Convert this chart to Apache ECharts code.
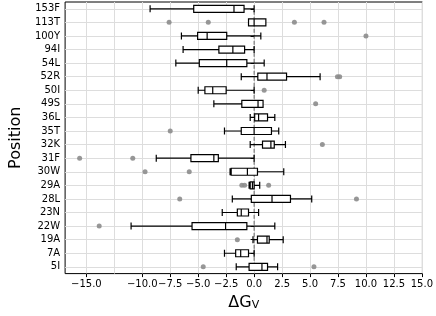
<!DOCTYPE html>
<html>
<head>
<meta charset="utf-8">
<script src="https://cdn.jsdelivr.net/npm/echarts@6/dist/echarts.min.js"></script>
<style>
  html, body { margin: 0; padding: 0; background: #fff; }
  #chart { width: 436px; height: 316px; }
</style>
</head>
<body>
<div id="chart"></div>
<script>
// positions, bottom to top
const positions = ['5I', '7A', '19A', '22W', '23N', '28L', '29A', '30W', '31F', '32K',
  '35T', '36L', '49S', '50I', '52R', '54L', '94I', '100Y', '113T', '153F']

// [low whisker, Q1, median, Q3, high whisker]
const boxes = [
  [-1.6, -0.45, 0.7, 1.2, 2.1],
  [-2.65, -1.65, -1.2, -0.5, 0.0],
  [-0.1, 0.3, 1.15, 1.35, 2.6],
  [-11.0, -5.55, -2.55, -0.65, 1.85],
  [-2.85, -1.5, -1.15, -0.5, 0.4],
  [-1.95, -0.25, 1.6, 3.25, 5.15],
  [-0.45, -0.35, -0.15, 0.0, 0.5],
  [-2.15, -2.05, -0.6, 0.3, 2.65],
  [-8.75, -5.65, -3.6, -3.2, 0.0],
  [-0.35, 0.75, 1.5, 1.8, 2.8],
  [-2.65, -1.15, 0.0, 1.55, 2.2],
  [-0.35, 0.05, 0.4, 1.2, 1.85],
  [-3.6, -1.1, 0.35, 0.8, 0.8],
  [-5.0, -4.4, -3.7, -2.5, 0.0],
  [-1.15, 0.33, 1.15, 2.9, 5.9],
  [-7.0, -4.9, -2.45, -0.65, 0.9],
  [-6.35, -3.15, -1.9, -0.85, 0.0],
  [-6.5, -5.05, -4.2, -2.45, 0.6],
  [-0.5, -0.5, 0.0, 1.05, 1.05],
  [-9.3, -5.4, -1.8, -0.9, 0.0]
]

// fliers: [value, position]
const outliers = [
  [-4.55, '5I'], [5.35, '5I'],
  [-1.5, '19A'],
  [-13.85, '22W'],
  [-6.65, '28L'], [9.15, '28L'],
  [-1.1, '29A'], [-0.85, '29A'], [1.3, '29A'],
  [-9.75, '30W'], [-5.8, '30W'],
  [-15.6, '31F'], [-10.85, '31F'],
  [6.1, '32K'],
  [-7.5, '35T'],
  [5.5, '49S'],
  [0.9, '50I'],
  [7.45, '52R'], [7.65, '52R'],
  [10.0, '100Y'],
  [-7.6, '113T'], [-4.1, '113T'], [3.6, '113T'], [6.25, '113T']
]

const xTicks = [-15, -12.5, -10, -7.5, -5, -2.5, 0, 2.5, 5, 7.5, 10, 12.5, 15]

// dashed reference at ΔG = 0, from bottom to top category
const zeroLine = [[0, '5I'], [0, '153F']]

const font = 'DejaVu Sans'
const chart = echarts.init(document.getElementById('chart'))

chart.setOption({
  animation: false,
  grid: {
    left: 51,
    right: 11,
    top: 2,
    bottom: 36,
    show: true,
    borderColor: '#000',
    borderWidth: 1,
    backgroundColor: 'transparent'
  },
  xAxis: {
    type: 'value',
    min: -16.9,
    max: 15.05,
    name: '{a|ΔG}{b|V}',
    nameLocation: 'middle',
    nameGap: 17,
    nameTextStyle: {
      rich: {
        a: { fontFamily: font, fontSize: 16, color: '#000' },
        b: { fontFamily: font, fontSize: 11, color: '#000', padding: [6, 0, 0, 0] }
      }
    },
    axisLine: { show: false },
    axisTick: {
      show: true,
      length: 3.5,
      customValues: xTicks,
      lineStyle: { color: '#000', width: 1 }
    },
    axisLabel: {
      customValues: xTicks,
      showMinLabel: true,
      showMaxLabel: true,
      hideOverlap: false,
      margin: 6,
      fontFamily: font,
      fontSize: 10,
      color: '#000',
      formatter: v => v.toFixed(1).replace('-', '\u2212')
    },
    splitLine: { show: true, lineStyle: { color: '#dddddd', width: 1 } }
  },
  yAxis: {
    type: 'category',
    data: positions,
    name: 'Position',
    nameLocation: 'middle',
    nameGap: 27,
    nameTextStyle: { fontFamily: font, fontSize: 16, color: '#000' },
    axisLine: { show: false },
    axisTick: {
      show: true,
      alignWithLabel: true,
      length: 3.5,
      lineStyle: { color: '#000', width: 1 }
    },
    axisLabel: {
      margin: 5,
      fontFamily: font,
      fontSize: 10,
      color: '#000'
    },
    splitLine: {
      show: true,
      alignWithLabel: true,
      lineStyle: { color: '#dddddd', width: 1 }
    }
  },
  series: [
    {
      type: 'line',
      z: 1,
      symbol: 'none',
      silent: true,
      lineStyle: { type: [4, 2], color: '#666', width: 1 },
      data: zeroLine
    },
    {
      type: 'scatter',
      z: 2,
      symbolSize: 5,
      itemStyle: { color: '#8c8c8c', opacity: 0.9 },
      data: outliers
    },
    {
      type: 'boxplot',
      layout: 'horizontal',
      z: 3,
      boxWidth: [7, 7],
      itemStyle: { color: '#fff', borderColor: '#000', borderWidth: 1.2 },
      data: boxes
    }
  ]
})
</script>
</body>
</html>
